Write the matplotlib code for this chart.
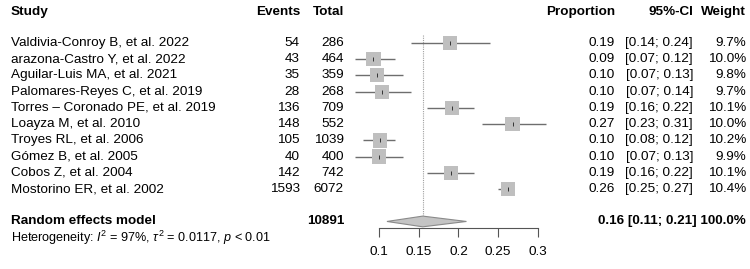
import matplotlib
matplotlib.use("Agg")
import matplotlib.pyplot as plt
from matplotlib.patches import Polygon

plt.rcParams["font.family"] = ["Liberation Sans", "DejaVu Sans"]
plt.rcParams["mathtext.fontset"] = "custom"
plt.rcParams["mathtext.rm"] = "Liberation Sans"
plt.rcParams["mathtext.it"] = "Liberation Sans:italic"

# ---- data ----
studies = [
    "Valdivia-Conroy B, et al. 2022",
    "arazona-Castro Y, et al. 2022",
    "Aguilar-Luis MA, et al. 2021",
    "Palomares-Reyes C, et al. 2019",
    "Torres \u2013 Coronado PE, et al. 2019",
    "Loayza M, et al. 2010",
    "Troyes RL, et al. 2006",
    "G\u00f3mez B, et al. 2005",
    "Cobos Z, et al. 2004",
    "Mostorino ER, et al. 2002",
]
events = [54, 43, 35, 28, 136, 148, 105, 40, 142, 1593]
totals = [286, 464, 359, 268, 709, 552, 1039, 400, 742, 6072]
props = [0.189, 0.093, 0.097, 0.104, 0.192, 0.268, 0.101, 0.100, 0.191, 0.262]
ci_lo = [0.14, 0.07, 0.07, 0.07, 0.16, 0.23, 0.08, 0.07, 0.16, 0.25]
ci_hi = [0.24, 0.12, 0.13, 0.14, 0.22, 0.31, 0.12, 0.13, 0.22, 0.27]
weights = [9.7, 10.0, 9.8, 9.7, 10.1, 10.0, 10.2, 9.9, 10.1, 10.4]

pooled_est = 0.155
pooled_lo = 0.11
pooled_hi = 0.21
pooled_total = 10891
pooled_label = "0.16 [0.11; 0.21] 100.0%"
het_text = r"Heterogeneity: $I^2$ = 97%, $\tau^2$ = 0.0117, $p$ < 0.01"
xticks = [0.1, 0.15, 0.2, 0.25, 0.3]

FS = 9.7
YLIM = (13.93, -2.65)
HDR = -1.9
POOL = 11.0

fig = plt.figure(figsize=(7.5, 2.69), dpi=100)

# text layer, x in pixels, y in rows
tx = fig.add_axes([0, 0, 1, 1])
tx.set_xlim(0, 750)
tx.set_ylim(*YLIM)
tx.axis("off")

# forest layer
ax = fig.add_axes([340 / 750, 0, 220 / 750, 1])
ax.set_xlim(0.1 - 39 / 795, 0.3 + 22 / 795)
ax.set_ylim(*YLIM)
ax.patch.set_alpha(0)

# headers
bold = dict(fontsize=FS, fontweight="bold", va="center")
tx.text(11, HDR, "Study", ha="left", **bold)
tx.text(300, HDR, "Events", ha="right", **bold)
tx.text(344, HDR, "Total", ha="right", **bold)
tx.text(615, HDR, "Proportion", ha="right", **bold)
tx.text(693, HDR, "95%-CI", ha="right", **bold)
tx.text(746, HDR, "Weight", ha="right", **bold)

rows = list(range(len(studies)))
for i in rows:
    kw = dict(fontsize=FS, va="center")
    tx.text(11, i, studies[i], ha="left", **kw)
    tx.text(300, i, f"{events[i]}", ha="right", **kw)
    tx.text(344, i, f"{totals[i]}", ha="right", **kw)
    tx.text(615, i, f"{props[i]:.2f}", ha="right", **kw)
    tx.text(693, i, f"[{ci_lo[i]:.2f}; {ci_hi[i]:.2f}]", ha="right", **kw)
    tx.text(746, i, f"{weights[i]:.1f}%", ha="right", **kw)

# pooled row
tx.text(11, POOL, "Random effects model", ha="left", **bold)
tx.text(344, POOL, f"{pooled_total}", ha="right", **bold)
tx.text(746, POOL, pooled_label, ha="right", **bold)
tx.text(11, POOL + 1.0, het_text, ha="left", fontsize=FS - 0.6, va="center")

# reference line at pooled estimate
ax.plot([pooled_est, pooled_est], [-0.5, POOL - 0.3], color="#a0a0a0",
        lw=0.8, ls=(0, (1, 1)))

# CIs, squares, centre ticks
ax.hlines(rows, ci_lo, ci_hi, color="#6e6e6e", lw=1.0, zorder=2)
ax.scatter(props, rows, s=[10.5 * w for w in weights], marker="s",
           color="#bfbfbf", lw=0, zorder=3)
ax.scatter(props, rows, s=9, marker="|", color="#333333", lw=0.7, zorder=4)

# pooled diamond
dia = Polygon([(pooled_lo, POOL), (pooled_est, POOL - 0.33),
               (pooled_hi, POOL), (pooled_est, POOL + 0.33)],
              closed=True, facecolor="#c4c4c4", edgecolor="#8a8a8a", lw=0.8)
ax.add_patch(dia)

# axis
for s in ["left", "right", "top"]:
    ax.spines[s].set_visible(False)
ax.spines["bottom"].set_position(("data", 11.42))
ax.spines["bottom"].set_bounds(0.1, 0.3)
ax.spines["bottom"].set_color("#555555")
ax.spines["bottom"].set_linewidth(0.8)
ax.set_yticks([])
ax.set_xticks(xticks)
ax.set_xticklabels([f"{t:g}" for t in xticks])
ax.tick_params(axis="x", direction="out", length=6.5, width=0.8,
               color="#555555", labelsize=FS, pad=6)

fig.savefig("out.png", dpi=100)
